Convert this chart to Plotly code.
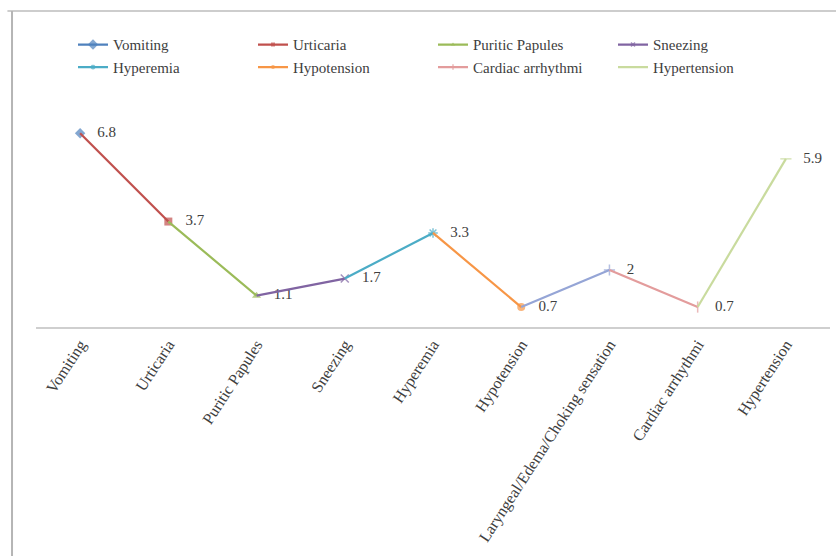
import plotly.graph_objects as go

categories = ["Vomiting", "Urticaria", "Puritic Papules", "Sneezing", "Hyperemia",
              "Hypotension", "Laryngeal/Edema/Choking sensation", "Cardiac arrhythmi", "Hypertension"]
values = [6.8, 3.7, 1.1, 1.7, 3.3, 0.7, 2, 0.7, 5.9]
value_labels = ["6.8", "3.7", "1.1", "1.7", "3.3", "0.7", "2", "0.7", "5.9"]
series_names = ["Vomiting", "Urticaria", "Puritic Papules", "Sneezing", "Hyperemia",
                "Hypotension", "Laryngeal/Edema/Choking sensation", "Cardiac arrhythmi", "Hypertension"]
series_colors = ["#4F81BD", "#C0504D", "#9BBB59", "#8064A2", "#4BACC6",
                 "#F79646", "#95A5D6", "#E39C9C", "#C9DB9E"]
series_symbols = ["diamond", "square", "triangle-up", "x-thin", "asterisk",
                  "circle", "cross-thin", "line-ns", "line-ew"]
series_in_legend = [True, True, True, True, True, True, False, True, True]

serif = "Times New Roman, Liberation Serif, DejaVu Serif, serif"
txt_color = "#404040"

fig = go.Figure()
for i, name in enumerate(series_names):
    if i == 0:
        xs, ys, ts = [categories[0]], [values[0]], ["   " + value_labels[0]]
    else:
        xs = [categories[i - 1], categories[i]]
        ys = [values[i - 1], values[i]]
        ts = ["", "   " + value_labels[i]]
    sym = series_symbols[i]
    thin = sym in ("x-thin", "asterisk", "cross-thin", "line-ns", "line-ew")
    fig.add_trace(go.Scatter(
        x=xs, y=ys, name=name, mode="lines+markers+text",
        text=ts, textposition="middle right",
        textfont=dict(family=serif, size=15, color=txt_color),
        line=dict(color=series_colors[i], width=2.2),
        marker=dict(symbol=sym, size=[0, 8] if i > 0 else [8],
                    color=series_colors[i],
                    line=dict(color=series_colors[i], width=1.5 if thin else 0)),
        showlegend=series_in_legend[i],
        cliponaxis=False,
    ))

fig.update_layout(
    width=836, height=556,
    margin=dict(l=36, r=6, t=99, b=229),
    paper_bgcolor="white", plot_bgcolor="white",
    font=dict(family=serif, color=txt_color),
    showlegend=True,
    legend=dict(orientation="h", x=0.0466, y=1.31, xanchor="left", yanchor="top",
                entrywidth=135, entrywidthmode="pixels",
                font=dict(family=serif, size=15, color=txt_color),
                bgcolor="rgba(0,0,0,0)", itemwidth=30, traceorder="normal"),
    xaxis=dict(type="category", categoryorder="array", categoryarray=categories,
               range=[-0.5, 8.5], showgrid=False, zeroline=False,
               showline=True, linecolor="#cfcfcf", linewidth=2,
               ticks="", tickangle=-57,
               tickfont=dict(family=serif, size=16, color=txt_color)),
    yaxis=dict(range=[0, 8], visible=False),
    shapes=[
        dict(type="line", xref="paper", yref="paper", x0=-0.036, x1=1.01, y0=1.386, y1=1.386,
             line=dict(color="#bdbdbd", width=1.5)),
        dict(type="line", xref="paper", yref="paper", x0=-0.0302, x1=-0.0302, y0=1.386, y1=-1.01,
             line=dict(color="#b5b5b5", width=2)),
    ],
)

fig.write_html("out.html")
